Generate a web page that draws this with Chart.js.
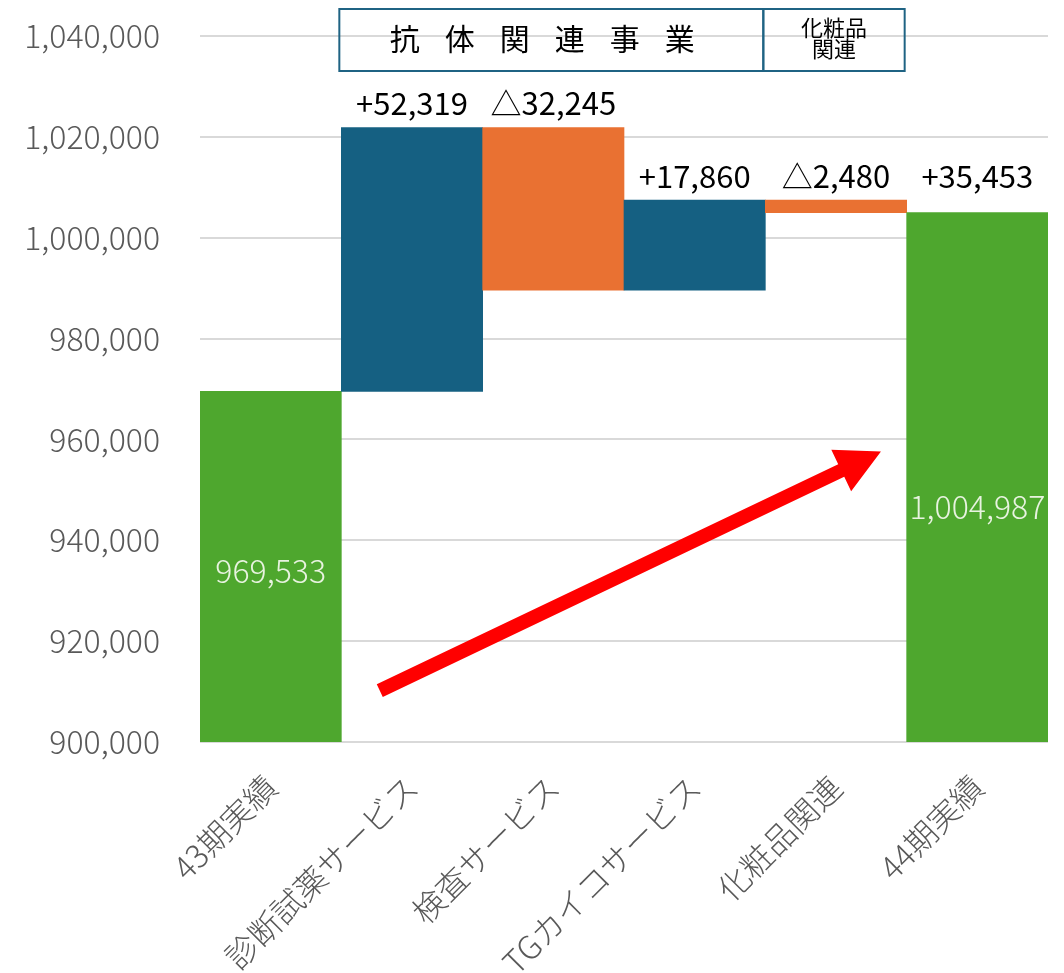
<!DOCTYPE html>
<html><head><meta charset="utf-8">
<script src="https://cdn.jsdelivr.net/npm/chart.js@4"></script>
<style>html,body{margin:0;padding:0;background:#fff}#wrap{width:1064px;height:973px;position:relative}</style>
</head><body><div id="wrap"><canvas id="c"></canvas></div>
<script>
const categories = ['43期実績','診断試薬サービス','検査サービス','TGカイコサービス','化粧品関連','44期実績'];
const startValue = 969533;
const changes = [52319, -32245, 17860, -2480];
const endValue = 1004987;
const totalChange = 35453;
const yMin = 900000, yMax = 1040000, yStep = 20000;
const groupNames = ['抗体関連事業', '化粧品関連'];
const groupSpans = [[1,3],[4,4]];

const COLORS = {total:'#4EA72E', up:'#156082', down:'#E97132'};
const FONT = "'Noto Sans CJK JP', 'Noto Sans', sans-serif";
const fmt = v => Math.abs(v).toLocaleString('en-US');

const floating = [];
const colors = [];
let run = startValue;
floating.push([0, startValue]); colors.push(COLORS.total);
changes.forEach(c => { floating.push([run, run + c]); colors.push(c >= 0 ? COLORS.up : COLORS.down); run += c; });
floating.push([0, endValue]); colors.push(COLORS.total);

const changeLabels = changes.map(c => (c >= 0 ? '+' : '△') + fmt(c));
changeLabels.push((totalChange >= 0 ? '+' : '△') + fmt(totalChange));

const overlay = {
  id: 'overlay',
  afterDatasetsDraw(chart) {
    const ctx = chart.ctx;
    const xs = chart.scales.x, ys = chart.scales.y;
    const meta = chart.getDatasetMeta(0);
    const ca = chart.chartArea;
    const cw = ca.width / categories.length;
    ctx.save();
    ctx.font = '31px ' + FONT;
    ctx.fillStyle = '#000';
    ctx.textAlign = 'center';
    ctx.textBaseline = 'middle';
    for (let i = 1; i < categories.length; i++) {
      const el = meta.data[i];
      let top = Math.min(el.y, el.base);
      if (i === categories.length - 1) {
        const p = meta.data[i-1];
        top = Math.min(p.y, p.base);
      }
      ctx.fillText(changeLabels[i-1], el.x, top - 24);
    }
    ctx.fillStyle = '#e8f3e0';
    ctx.font = '300 32px ' + FONT;
    [[0, startValue, 4], [categories.length-1, endValue, 30]].forEach(([i, v, off]) => {
      const el = meta.data[i];
      const mid = (ys.getPixelForValue(v) + ca.bottom) / 2 + off;
      ctx.fillText(v.toLocaleString('en-US'), el.x, mid);
    });
    ctx.strokeStyle = '#1F6383';
    ctx.lineWidth = 2;
    const bTop = 9, bBot = 71;
    groupSpans.forEach(([a, b], gi) => {
      const l = xs.getPixelForValue(a) - cw/2 - 2;
      const r = xs.getPixelForValue(b) + cw/2 - 2;
      ctx.strokeRect(l, bTop, r - l, bBot - bTop);
      ctx.fillStyle = '#000';
      if (gi === 0) {
        ctx.font = '30px ' + FONT;
        const chars = [...groupNames[0]];
        const sp = 55;
        const cx = (l + r) / 2 - 9;
        chars.forEach((ch, k) => ctx.fillText(ch, cx + (k - (chars.length-1)/2) * sp, 39));
      } else {
        ctx.font = '22px ' + FONT;
        const cx = (l + r) / 2;
        ctx.fillText(groupNames[1].slice(0,3), cx, 28);
        ctx.fillText(groupNames[1].slice(3), cx, 49);
      }
    });
    const x0 = ca.left + 0.212 * ca.width, y0 = ys.getPixelForValue(910200);
    const x1 = ca.left + 0.803 * ca.width, y1 = ys.getPixelForValue(957600);
    const ang = Math.atan2(y1 - y0, x1 - x0);
    const len = Math.hypot(x1 - x0, y1 - y0);
    ctx.translate(x0, y0);
    ctx.rotate(ang);
    ctx.fillStyle = '#FF0000';
    const sw = 7, hl = 44, hw = 23;
    ctx.beginPath();
    ctx.moveTo(0, -sw);
    ctx.lineTo(len - hl, -sw);
    ctx.lineTo(len - hl, -hw);
    ctx.lineTo(len, 0);
    ctx.lineTo(len - hl, hw);
    ctx.lineTo(len - hl, sw);
    ctx.lineTo(0, sw);
    ctx.closePath();
    ctx.fill();
    ctx.restore();
  }
};

new Chart(document.getElementById('c'), {
  type: 'bar',
  data: {
    labels: categories,
    datasets: [{
      data: floating,
      backgroundColor: colors,
      borderWidth: 0,
      barPercentage: 1,
      categoryPercentage: 1
    }]
  },
  options: {
    responsive: true,
    maintainAspectRatio: false,
    animation: false,
    layout: { padding: { top: 36, right: 16, left: 0, bottom: 0 } },
    plugins: { legend: { display: false }, tooltip: { enabled: false } },
    scales: {
      x: {
        grid: { display: false },
        border: { display: false },
        ticks: { color: '#595959', font: { family: FONT, size: 32, weight: 300 }, maxRotation: 45, minRotation: 45, padding: 18 },
        afterFit(s) { s.height = 231; s.paddingLeft = 0; s.paddingRight = 0; }
      },
      y: {
        min: yMin, max: yMax,
        grid: { color: '#D9D9D9', lineWidth: 2, tickLength: 0 },
        border: { display: false },
        ticks: { stepSize: yStep, color: '#595959', font: { family: FONT, size: 32, weight: 300 }, padding: 40,
          callback: v => v.toLocaleString('en-US') },
        afterFit(s) { s.width = 200; s.paddingTop = 0; s.paddingBottom = 0; }
      }
    }
  },
  plugins: [overlay]
});
</script>
</body></html>
